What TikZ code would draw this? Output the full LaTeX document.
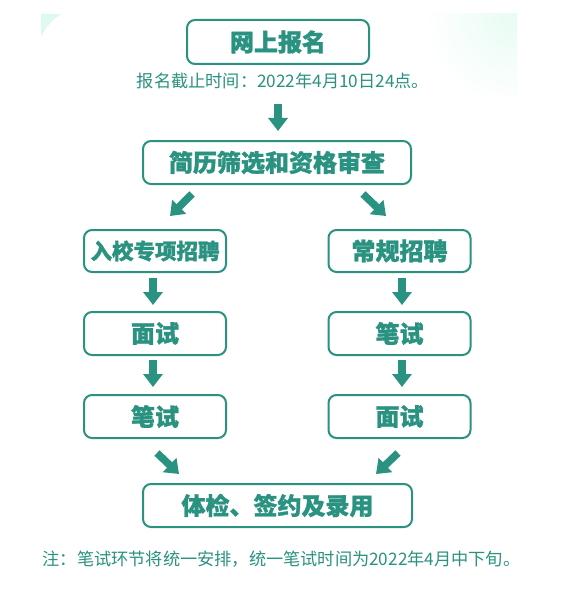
\documentclass[tikz,border=0pt]{standalone}
\usepackage{fontspec}
\usetikzlibrary{arrows.meta}
\newfontfamily\cjk{Noto Sans CJK SC}[BoldFont=* Black, BoldFeatures={FakeBold=1.2}]
\definecolor{teal1}{RGB}{42,146,128}
\definecolor{mint}{RGB}{222,250,238}
\tikzset{
  stepbox/.style={draw=teal1, line width=2pt, rounded corners=8pt, fill=white,
    text=teal1, font=\cjk\bfseries\fontsize{24}{24}\selectfont, inner sep=0pt},
  blockarrow/.style={draw=teal1, line width=7.5pt, -{Triangle[width=19pt,length=13pt]}},
  smalltext/.style={text=teal1, font=\cjk\fontsize{17.2}{17.2}\selectfont, inner sep=0pt}
}
\begin{document}
\begin{tikzpicture}[x=1pt,y=-1pt]
\useasboundingbox (0,0) rectangle (567,591);
\fill[white] (0,0) rectangle (567,591);
% background decorations
\fill[mint] (41,14) -- (61,14) .. controls (52,20) and (45,28) .. (41,37) -- cycle;
\begin{scope}
  \clip (425,14) rectangle (517,95);
  \shade[inner color=mint!70, outer color=white] (517,14) circle (95pt);
\end{scope}
% boxes
\node[stepbox, minimum width=182pt, minimum height=44pt] (b1) at (278,42) {网上报名};
\node[smalltext] (t1) at (283,81) {报名截止时间：2022年4月10日24点。};
\node[stepbox, minimum width=268pt, minimum height=43pt] (b2) at (277,162.5) {简历筛选和资格审查};
\node[stepbox, minimum width=142pt, minimum height=42pt, font=\cjk\bfseries\fontsize{21.5}{21.5}\selectfont] (b3) at (155,251) {入校专项招聘};
\node[stepbox, minimum width=142pt, minimum height=42pt] (b4) at (399.5,251) {常规招聘};
\node[stepbox, minimum width=142pt, minimum height=43pt] (b5) at (155,333.5) {面试};
\node[stepbox, minimum width=142pt, minimum height=43pt] (b6) at (399.5,333.5) {笔试};
\node[stepbox, minimum width=142pt, minimum height=43pt] (b7) at (155,416.5) {笔试};
\node[stepbox, minimum width=142pt, minimum height=43pt] (b8) at (399.5,416.5) {面试};
\node[stepbox, minimum width=269pt, minimum height=43pt] (b9) at (277.5,505.5) {体检、签约及录用};
\node[smalltext] (t2) at (281.5,559) {注：笔试环节将统一安排，统一笔试时间为2022年4月中下旬。};
% arrow end points
\coordinate (a1s) at (278,104); \coordinate (a1e) at (278,131);
\coordinate (a2s) at (192,194); \coordinate (a2e) at (170,216);
\coordinate (a3s) at (363,194); \coordinate (a3e) at (386,216);
\coordinate (a4s) at (153,278); \coordinate (a4e) at (153,305);
\coordinate (a5s) at (402,278); \coordinate (a5e) at (402,305);
\coordinate (a6s) at (153,360); \coordinate (a6e) at (153,387);
\coordinate (a7s) at (402,360); \coordinate (a7e) at (402,387);
\coordinate (a8s) at (157,453); \coordinate (a8e) at (179,474);
\coordinate (a9s) at (398,453); \coordinate (a9e) at (376,474);
\foreach \i in {1,...,9} { \draw[blockarrow] (a\i s) -- (a\i e); }
\end{tikzpicture}
\end{document}
